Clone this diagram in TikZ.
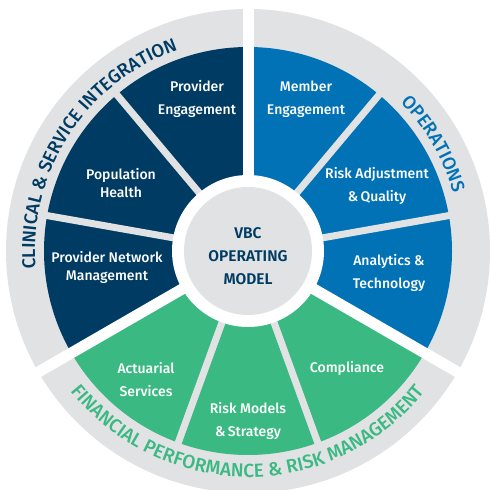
\documentclass[tikz,border=0pt]{standalone}
\usepackage{fontspec}
\setmainfont{Fira Sans}
\newfontfamily\medfont{Fira Sans Medium}
\newfontfamily\semifont{Fira Sans SemiBold}
\usetikzlibrary{decorations.text}
\definecolor{navy}{HTML}{003B63}
\definecolor{vblue}{HTML}{0072B5}
\definecolor{vgreen}{HTML}{3BB983}
\definecolor{ringgrey}{HTML}{E1E2E4}
\tikzset{
  seg/.style={text=white, font=\medfont\fontsize{14}{23}\selectfont, align=center, inner sep=0pt},
  segtight/.style={seg, font=\medfont\fontsize{14}{18}\selectfont},
  hub/.style={text=navy, font=\semifont\fontsize{15.5}{23}\selectfont, align=center, inner sep=0pt},
  gapline/.style={ringgrey, line width=7pt},
  groupgap/.style={white, line width=11pt}
}
\begin{document}
\begin{tikzpicture}[x=1pt,y=1pt]
\useasboundingbox (0,0) rectangle (490,490);
\clip (0,0) rectangle (490,490);
\fill[white] (0,0) rectangle (490,490);
\coordinate (C) at (248,239);
% outer ring
\fill[ringgrey] (C) circle[radius=242];
% sectors
\foreach \a/\col in {90/navy,130/navy,170/navy,-30/vblue,10/vblue,50/vblue,210/vgreen,250/vgreen,290/vgreen}{
  \fill[\col] (C) -- ([shift={(\a:204)}]C) arc[start angle=\a, end angle=\a+40, radius=204] -- cycle;
}
% separators inside groups
\foreach \a in {130,170,10,50,250,290}{
  \draw[gapline] (C) -- ([shift={(\a:215)}]C);
}
% group separators
\foreach \a in {90,-30,210}{
  \draw[groupgap] (C) -- ([shift={(\a:260)}]C);
}
% hub
\fill[white] (C) circle[radius=76];
\fill[ringgrey] (C) circle[radius=64];
% ring texts
\path[decorate, decoration={text along path, text align=center,
  text={|\medfont\fontsize{18.5}{20}\selectfont\color{navy}|CLINICAL {\&} SERVICE INTEGRATION}}]
  ([shift={(207:213)}]C) arc[start angle=207, end angle=87, radius=213];
\path[decorate, decoration={text along path, text align=center,
  text={|\medfont\fontsize{18.5}{20}\selectfont\color{vblue}|OPERATIONS}}]
  ([shift={(90:213)}]C) arc[start angle=90, end angle=-30, radius=213];
\path[decorate, decoration={text along path, text align=center,
  text={|\medfont\fontsize{19}{20}\selectfont\color{vgreen}|FINANCIAL PERFORMANCE {\&} RISK MANAGEMENT}}]
  ([shift={(208:226)}]C) arc[start angle=208, end angle=332, radius=226];
% segment labels
\node[seg] (pe) at (197,391) {Provider\\Engagement};
\node[segtight] (ph) at (121,307) {Population\\Health};
\node[segtight] (pn) at (107,223) {Provider Network\\Management};
\node[seg] (me) at (306,391) {Member\\Engagement};
\node[seg] (ra) at (377,304) {Risk Adjustment\\\&\,Quality};
\node[seg] (at) at (389,217) {Analytics \&\\Technology};
\node[seg] (co) at (347,122) {Compliance};
\node[seg] (rm) at (248,69) {Risk Models\\\&\,Strategy};
\node[seg] (as) at (146,110) {Actuarial\\Services};
\node[hub] (vbc) at (248,234) {VBC\\OPERATING\\MODEL};
\end{tikzpicture}
\end{document}
